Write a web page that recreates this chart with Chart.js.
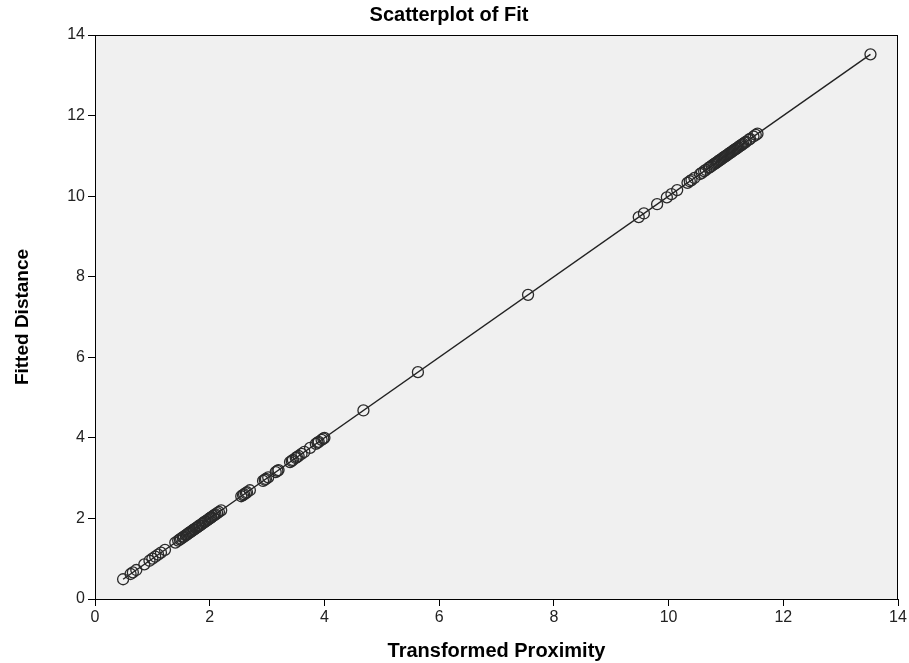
<!DOCTYPE html>
<html>
<head>
<meta charset="utf-8">
<script src="https://cdn.jsdelivr.net/npm/chart.js@4/dist/chart.umd.min.js"></script>
<style>
  html, body { margin: 0; padding: 0; background: #fff; }
  #wrap { width: 909px; height: 663px; }
</style>
</head>
<body>
<div id="wrap"><canvas id="fitChart"></canvas></div>
<script>
// observed values (transformed proximity) and their fitted distances
const proximity = [
    0.49, 0.62, 0.66, 0.72, 0.86, 0.95, 1.0, 1.05, 1.1, 1.15, 1.22,
    1.4, 1.45, 1.48, 1.5, 1.53, 1.55, 1.58, 1.6, 1.62, 1.64, 1.66, 1.68,
    1.7, 1.72, 1.73, 1.76, 1.78, 1.8, 1.82, 1.83, 1.86, 1.88, 1.9, 1.92,
    1.93, 1.96, 1.98, 2.0, 2.02, 2.03, 2.06, 2.08, 2.1, 2.13, 2.16, 2.2,
    2.55, 2.58, 2.6, 2.63, 2.65, 2.7, 2.93, 2.96, 2.98, 3.02, 3.15, 3.18, 3.2,
    3.4, 3.43, 3.45, 3.5, 3.52, 3.55, 3.6, 3.65, 3.75, 3.85, 3.88, 3.9,
    3.95, 3.98, 4.0,
    4.68, 5.63, 7.55,
    9.48, 9.57, 9.8, 9.97, 10.05, 10.15, 10.33, 10.37, 10.4, 10.45, 10.55,
    10.58, 10.62, 10.65, 10.7, 10.72, 10.75, 10.78, 10.8, 10.82, 10.84,
    10.86, 10.88, 10.9, 10.92, 10.94, 10.96, 10.98, 11.0, 11.02, 11.04,
    11.06, 11.08, 11.1, 11.12, 11.14, 11.16, 11.18, 11.2, 11.22, 11.24,
    11.26, 11.28, 11.3, 11.33, 11.35, 11.4, 11.42, 11.48, 11.52, 11.55, 13.52
];
const fittedDistance = proximity.slice();

// fit line end points
const lineX = [0.49, 13.52];
const lineY = [0.49, 13.52];

const axisTicks = [0, 2, 4, 6, 8, 10, 12, 14];

const plotBackground = {
    id: "plotBackground",
    beforeDraw(chart) {
        const { ctx, chartArea: a } = chart;
        ctx.save();
        ctx.fillStyle = "#f0f0f0";
        ctx.fillRect(a.left, a.top, a.right - a.left, a.bottom - a.top);
        ctx.restore();
    },
    afterDraw(chart) {
        const { ctx, chartArea: a } = chart;
        ctx.save();
        ctx.strokeStyle = "#000";
        ctx.lineWidth = 1;
        ctx.strokeRect(a.left + 0.5, a.top + 0.5, a.right - a.left - 1, a.bottom - a.top);
        ctx.restore();
    }
};

const ctx = document.getElementById("fitChart");
new Chart(ctx, {
    type: "scatter",
    data: {
        datasets: [
            {
                type: "line",
                data: lineX.map((x, i) => ({ x: x, y: lineY[i] })),
                borderColor: "#222",
                borderWidth: 1.4,
                pointRadius: 0,
                fill: false,
                order: 2,
            },
            {
                data: proximity.map((x, i) => ({ x: x, y: fittedDistance[i] })),
                pointStyle: "circle",
                pointRadius: 5.5,
                borderColor: "#2a2a2a",
                borderWidth: 1.3,
                backgroundColor: "rgba(0,0,0,0)",
                order: 1,
            },
        ],
    },
    options: {
        responsive: true,
        maintainAspectRatio: false,
        animation: false,
        layout: { padding: { left: 0, right: 11, top: 0, bottom: 0 } },
        plugins: {
            legend: { display: false },
            tooltip: { enabled: false },
            title: {
                display: true,
                text: "Scatterplot of Fit",
                color: "#000",
                font: { family: "Arial, 'Liberation Sans'", size: 20, weight: "bold" },
                padding: { top: 3, bottom: 8 },
            },
        },
        scales: {
            x: {
                type: "linear",
                min: 0,
                max: 14,
                afterBuildTicks: s => { s.ticks = axisTicks.map(v => ({ value: v })); },
                afterFit: s => { s.height = 64; },
                grid: { drawOnChartArea: false, drawTicks: true, tickLength: 7, color: "#000" },
                border: { display: true, color: "#000" },
                ticks: { color: "#222", padding: 2, font: { family: "Arial, 'Liberation Sans'", size: 16 } },
                title: {
                    display: true,
                    text: "Transformed Proximity",
                    color: "#000",
                    font: { family: "Arial, 'Liberation Sans'", size: 20, weight: "bold" },
                    padding: { top: 10, bottom: 0 },
                },
            },
            y: {
                type: "linear",
                min: 0,
                max: 14,
                afterBuildTicks: s => { s.ticks = axisTicks.map(v => ({ value: v })); },
                afterFit: s => { s.width = 95; },
                grid: { drawOnChartArea: false, drawTicks: true, tickLength: 7, color: "#000" },
                border: { display: true, color: "#000" },
                ticks: { color: "#222", padding: 3, font: { family: "Arial, 'Liberation Sans'", size: 16 } },
                title: {
                    display: true,
                    text: "Fitted Distance",
                    color: "#000",
                    font: { family: "Arial, 'Liberation Sans'", size: 19, weight: "bold" },
                    padding: { top: 11, bottom: 20 },
                },
            },
        },
    },
    plugins: [plotBackground],
});
</script>
</body>
</html>
